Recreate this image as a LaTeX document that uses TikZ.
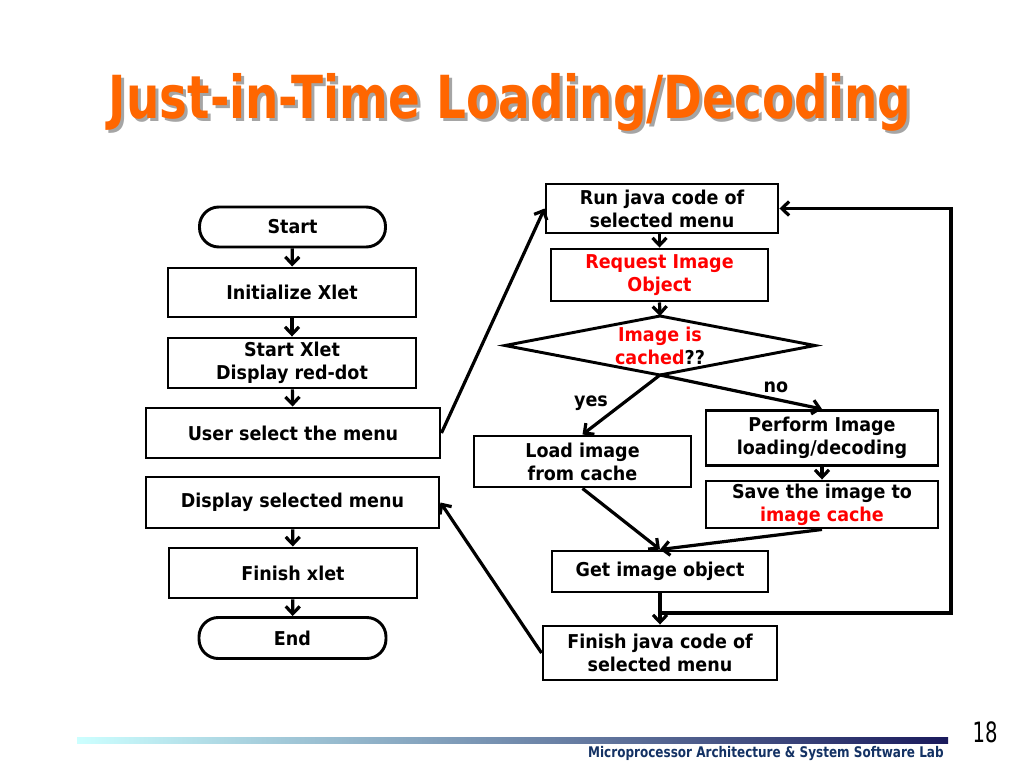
\documentclass[tikz,border=0pt]{standalone}
\usepackage{fontspec}
\usetikzlibrary{arrows.meta,calc}
\setmainfont{DejaVu Sans}
\newfontfamily\nodefont{DejaVu Sans}[FakeStretch=0.92]
\newfontfamily\titlefont{DejaVu Sans}[FakeStretch=0.79]
\newfontfamily\footfont{DejaVu Sans}[FakeStretch=0.82]
\newfontfamily\numfont{DejaVu Sans}[FakeStretch=0.7]
\definecolor{titleorange}{RGB}{255,102,0}
\definecolor{shadowgray}{RGB}{165,165,165}
\definecolor{navy}{RGB}{26,26,92}
\definecolor{barcyan}{RGB}{204,255,255}
\definecolor{foottext}{RGB}{20,50,100}
\definecolor{redtext}{RGB}{255,0,0}
\tikzset{
  box/.style={draw=black, line width=2.2pt, fill=white, inner sep=0pt, align=center,
    font=\nodefont\bfseries\fontsize{14.3pt}{17.4pt}\selectfont},
  term/.style={box, rounded corners=14.5pt},
  sz/.style args={#1/#2}{minimum width=#1*0.75pt, minimum height=#2*0.75pt},
  lbl/.style={inner sep=0pt, font=\nodefont\bfseries\fontsize{14.3pt}{17.4pt}\selectfont},
  arr/.style={line width=2.4pt, -{Straight Barb[length=5.5pt,width=10.5pt,line width=2.4pt]}},
  plain/.style={line width=2.4pt}
}
\begin{document}
\begin{tikzpicture}[x=0.75pt,y=-0.75pt]
\useasboundingbox (0,0) rectangle (1024,768);
\fill[white] (0,0) rectangle (1024,768);
% title
\node[anchor=base, inner sep=0pt, text=shadowgray, font=\titlefont\bfseries\fontsize{44.5pt}{50pt}\selectfont] (titleshadow) at (513,121) {Just-in-Time Loading/Decoding};
\node[anchor=base, inner sep=0pt, text=titleorange, font=\titlefont\bfseries\fontsize{44.5pt}{50pt}\selectfont] (title) at (510,118) {Just-in-Time Loading/Decoding};
% left column
\node[term, sz=186/40] (start) at (292.5,227) {Start};
\node[box, sz=248/49] (init) at (292,292.5) {Initialize Xlet};
\node[box, sz=248/50] (sxlet) at (292,363) {Start Xlet\\Display red-dot};
\node[box, sz=294/50] (user) at (293,433) {User select the menu};
\node[box, sz=293/51] (disp) at (292.5,502.5) {Display selected menu};
\node[box, sz=248/50] (finx) at (293,573) {Finish xlet};
\node[term, sz=187/41] (endn) at (292.5,638) {End};
\draw[arr] (start) -- (init);
\draw[arr] (init) -- (sxlet);
\draw[arr] (sxlet) -- (user);
\draw[arr] (disp) -- (finx);
\draw[arr] (finx) -- (endn);
% right column
\node[box, sz=232/49] (run) at (662,208.5) {Run java code of\\selected menu};
\node[box, sz=217/52, text=redtext] (req) at (659.5,275) {Request Image\\Object};
\coordinate (dtop) at (660,316);
\coordinate (dbot) at (660,375);
\coordinate (dleft) at (505,345.5);
\coordinate (dright) at (815,345.5);
\draw[line width=2.2pt, fill=white] (dtop) -- (dright) -- (dbot) -- (dleft) -- cycle;
\node[lbl, align=center] (dtext) at (660,346) {\textcolor{redtext}{Image is}\\\textcolor{redtext}{cached}??};
\node[box, sz=217/51] (load) at (582.5,461.5) {Load image\\from cache};
\node[box, sz=232/55] (perf) at (822,438) {Perform Image\\loading/decoding};
\node[box, sz=232/47] (save) at (822,504.5) {Save the image to\\\textcolor{redtext}{image cache}};
\node[box, sz=216/41] (get) at (660,571.5) {Get image object};
\node[box, sz=234/54] (finj) at (660,653) {Finish java code of\\selected menu};
\node[lbl] (yes) at (591,403) {yes};
\node[lbl] (no) at (776,387) {no};
\draw[arr] (user.east) -- (run.west);
\draw[arr] (run.south -| req.north) -- (req.north);
\draw[arr] (req.south) -- (dtop);
\draw[arr] (dbot) -- (load.north);
\draw[arr] (dbot) -- (perf.north);
\draw[arr] (perf.south) -- (save.north);
\draw[arr] (load.south) -- (get.north);
\draw[arr] (save.south) -- (get.north);
\draw[arr] (get.south) -- (finj.north);
\coordinate (junc) at (660,613);
\coordinate (loopc) at (951,208.5);
\draw[arr] (junc) -| (loopc) -- (run.east);
\draw[arr] (finj.west) -- (disp.east);
% footer
\shade[left color=barcyan, right color=navy] (77,737) rectangle (948,743);
\node[anchor=base east, inner sep=0pt, text=foottext, font=\footfont\bfseries\fontsize{11pt}{13pt}\selectfont] (lab) at (944,757) {Microprocessor Architecture \& System Software Lab};
\node[anchor=base, inner sep=0pt, font=\numfont\fontsize{21pt}{24pt}\selectfont] (pnum) at (985,742) {18};
\end{tikzpicture}
\end{document}
